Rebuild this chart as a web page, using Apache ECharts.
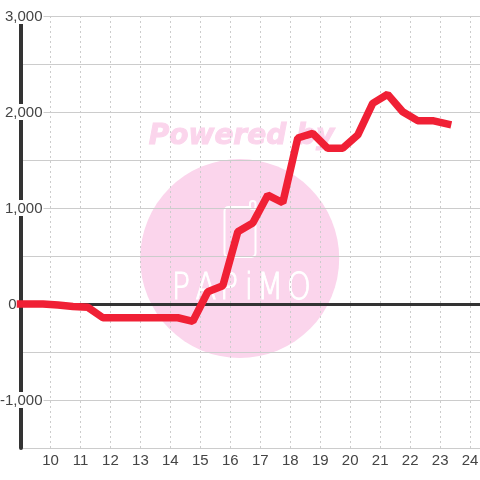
<!DOCTYPE html>
<html><head><meta charset="utf-8">
<style>html,body{margin:0;padding:0;background:#fff}#c{width:480px;height:480px}</style>
<script src="https://cdn.jsdelivr.net/npm/echarts@6/dist/echarts.min.js"></script>
</head><body><div id="c"></div>
<script>
const hours = [9,9.75,10.25,10.75,11.25,11.75,12.25,12.75,13.25,13.75,14.25,14.75,15.25,15.75,16.25,16.75,17.25,17.75,18.25,18.75,19.25,19.75,20.25,20.75,21.25,21.75,22.25,22.75,23.25];
const values = [0,0,-10,-25,-35,-143,-143,-143,-143,-143,-143,-180,128,190,753,843,1135,1055,1729,1778,1622,1622,1760,2090,2184,2003,1910,1910,1875];
const watermarkTop = 'Powered by';
const watermarkBrand = ['P','A','P','i','M','O'];
const brandCenters = [181,206,229,249,270,299];
const pink = '#fbd5ec';
const chart = echarts.init(document.getElementById('c'), null, {renderer:'canvas'});
const fmt = v => {
  if (v % 1000 !== 0) return '';
  const s = (v < 0 ? '-' : '') + Math.abs(v).toString().replace(/\B(?=(\d{3})+$)/g, ',');
  return v === 0 ? '{z|' + s + '}' : '{a|' + s + '}';
};
chart.setOption({
  animation:false,
  backgroundColor:'#fff',
  grid:{left:20.5,right:0,top:16,bottom:32,containLabel:false,outerBoundsMode:'none'},
  xAxis:[{
    type:'value',min:9,max:24.33,interval:1,position:'bottom',
    axisLine:{show:false,onZero:false},axisTick:{show:false},
    axisLabel:{color:'#444',fontSize:15,fontFamily:'Liberation Sans',margin:5,showMinLabel:false,
      formatter:v=>(Number.isInteger(v)&&v>=10)?String(v):''},
    splitLine:{show:true,lineStyle:{color:'#ccc',type:[2,3],width:1}}
  },{
    type:'value',min:9,max:24.33,interval:1,position:'top',
    axisLine:{show:true,onZero:true,lineStyle:{color:'#333',width:3}},
    axisTick:{show:false},axisLabel:{show:false},splitLine:{show:false}
  }],
  yAxis:{
    type:'value',min:-1500,max:3000,interval:500,position:'left',
    axisLine:{show:true,onZero:false,lineStyle:{color:'#333',width:4}},
    axisTick:{show:false},
    axisLabel:{inside:true,margin:23,align:'right',showMinLabel:false,hideOverlap:false,
      formatter:fmt,
      rich:{
        a:{color:'#444',fontSize:15,fontFamily:'Liberation Sans',backgroundColor:'#fff',padding:[1,1,0,1],lineHeight:16},
        z:{color:'#444',fontSize:15,fontFamily:'Liberation Sans',padding:[2,27,0,0],lineHeight:16}
      }},
    splitLine:{show:true,lineStyle:{color:'#ccc',width:1}}
  },
  graphic:{elements:[
    {type:'circle',silent:true,z:-10,shape:{cx:239.7,cy:258.5,r:99.5},style:{fill:pink}},
    {type:'text',silent:true,z:-10,x:241.5,y:136.5,style:{text:watermarkTop,fill:pink,stroke:pink,lineWidth:1,font:'italic bold 28px "DejaVu Sans"',align:'center',verticalAlign:'middle'}},
    {type:'rect',silent:true,z:-9,shape:{x:224.5,y:207,width:31,height:50,r:4},style:{fill:'none',stroke:'#fff',lineWidth:2}},
    {type:'rect',silent:true,z:-9,shape:{x:250,y:201,width:5.5,height:8,r:2.5},style:{fill:pink,stroke:'#fff',lineWidth:2}}
  ].concat(watermarkBrand.map((ch,i)=>({
    type:'text',silent:true,z:-9,x:brandCenters[i],y:289,scaleX:0.8,
    style:{text:ch,fill:'#fff',stroke:'#fff',lineWidth:1,font:'200 38px "DejaVu Sans"',align:'center',verticalAlign:'middle'}
  })))},
  series:[{
    type:'line',xAxisIndex:0,yAxisIndex:0,showSymbol:false,clip:false,
    data:hours.map((h,i)=>[h,values[i]]),
    lineStyle:{color:'#f02035',width:7.5,cap:'square',join:'bevel'},
    z:5
  }]
});
</script></body></html>
